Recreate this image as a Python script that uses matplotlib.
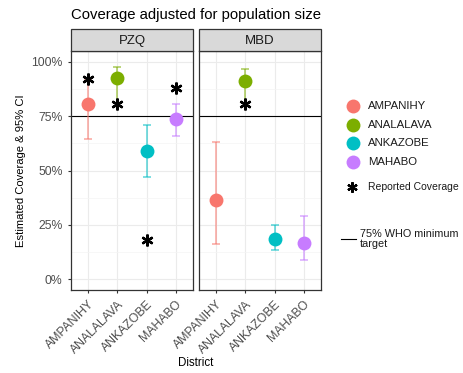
import matplotlib
matplotlib.use("Agg")
import matplotlib.pyplot as plt
from matplotlib.lines import Line2D
from matplotlib.patches import Rectangle

plt.rcParams["font.family"] = ["Liberation Sans", "DejaVu Sans"]

districts = ["AMPANIHY", "ANALALAVA", "ANKAZOBE", "MAHABO"]
colors = ["#F8766D", "#7CAE00", "#00BFC4", "#C77CFF"]
panels = ["PZQ", "MBD"]

# estimated coverage and 95% CI (percent)
est = {"PZQ": [80.5, 92.8, 58.8, 73.9], "MBD": [36.5, 91.2, 18.5, 16.8]}
ci_low = {"PZQ": [64.6, 81.0, 47.2, 65.8], "MBD": [16.2, 81.0, 13.4, 9.0]}
ci_high = {"PZQ": [91.5, 97.7, 70.8, 80.5], "MBD": [63.0, 96.5, 25.0, 29.0]}
# reported coverage (percent), None where not shown
reported = {"PZQ": [91.9, 80.5, 18.0, 88.0], "MBD": [None, 80.5, None, None]}
who_target = 75

W, H = 463, 373
fig = plt.figure(figsize=(W / 100, H / 100), dpi=100)

def fx(px):
    return px / W

def fy(py):
    return 1 - py / H

panel_left = [71, 199]
pw = 122
top, bottom, strip_top = 51, 290, 29

for i, p in enumerate(panels):
    ax = fig.add_axes([fx(panel_left[i]), fy(bottom), fx(pw), (bottom - top) / H])
    ax.set_xlim(0.4, 4.6)
    ax.set_ylim(-5, 105)
    ax.set_yticks([0, 25, 50, 75, 100])
    ax.set_yticks([12.5, 37.5, 62.5, 87.5], minor=True)
    ax.set_xticks(range(1, 5))
    ax.grid(True, which="major", color="#EBEBEB", lw=0.8)
    ax.grid(True, which="minor", axis="y", color="#F4F4F4", lw=0.5)
    ax.set_axisbelow(True)
    for s in ax.spines.values():
        s.set_color("#333333")
        s.set_linewidth(0.9)
    ax.axhline(who_target, color="black", lw=0.8, zorder=2)
    for j, d in enumerate(districts):
        x = j + 1
        ax.errorbar(x, est[p][j],
                    yerr=[[est[p][j] - ci_low[p][j]], [ci_high[p][j] - est[p][j]]],
                    fmt="none", ecolor=colors[j], alpha=0.6, elinewidth=1.2,
                    capsize=3, capthick=1.2, zorder=3)
        ax.plot(x, est[p][j], "o", color=colors[j], ms=10, mec="none", zorder=4)
        if reported[p][j] is not None:
            ax.plot(x, reported[p][j], marker=(6, 2, 0), color="black",
                    ms=8.5, mew=1.7, ls="none", zorder=5)
    ax.set_xticklabels(districts, rotation=45, ha="right", rotation_mode="anchor",
                       fontsize=8.8, color="#4D4D4D")
    ax.tick_params(axis="both", which="major", length=2.5, color="#333333")
    ax.tick_params(axis="y", which="minor", length=0)
    if i == 0:
        ax.set_yticklabels([f"{v}%" for v in [0, 25, 50, 75, 100]],
                           fontsize=8.8, color="#4D4D4D")
    else:
        ax.set_yticklabels([])
        ax.tick_params(axis="y", length=0)

    sax = fig.add_axes([fx(panel_left[i]), fy(top), fx(pw), (top - strip_top) / H])
    sax.set_xlim(0, 1)
    sax.set_ylim(0, 1)
    sax.axis("off")
    sax.add_patch(Rectangle((0, 0), 1, 1, facecolor="#D9D9D9", edgecolor="#333333",
                            lw=0.9, transform=sax.transAxes, clip_on=False))
    sax.text(0.5, 0.45, p, ha="center", va="center", fontsize=9.5, color="#1A1A1A")

fig.text(fx(196), fy(15), "Coverage adjusted for population size",
         ha="center", va="center", fontsize=10.7, color="black")
fig.text(fx(21), fy(171), "Estimated Coverage & 95% CI", rotation=90,
         ha="center", va="center", fontsize=8.1, color="black")
fig.text(fx(196), fy(363), "District", ha="center", va="center", fontsize=8.3,
         color="black")

# legend
leg_y = [106, 125, 143.5, 162.5]
for j, d in enumerate(districts):
    fig.add_artist(Line2D([fx(352.5)], [fy(leg_y[j])], marker="o", ms=10,
                          color=colors[j], mec="none", ls="none"))
    fig.text(fx(368), fy(leg_y[j]), d, ha="left", va="center", fontsize=8.2,
             color="#1A1A1A")
fig.add_artist(Line2D([fx(352)], [fy(187)], marker=(6, 2, 0), ms=7.5, mew=1.6,
                      color="black", ls="none"))
fig.text(fx(368), fy(187), "Reported Coverage", ha="left", va="center",
         fontsize=7.5, color="#1A1A1A")
fig.add_artist(Line2D([fx(341), fx(356)], [fy(239), fy(239)], color="black",
                      lw=0.8))
fig.text(fx(360), fy(239), "75% WHO minimum\ntarget", ha="left", va="center",
         fontsize=7.8, color="#1A1A1A", linespacing=1.1)

fig.savefig("out.png", dpi=100)
